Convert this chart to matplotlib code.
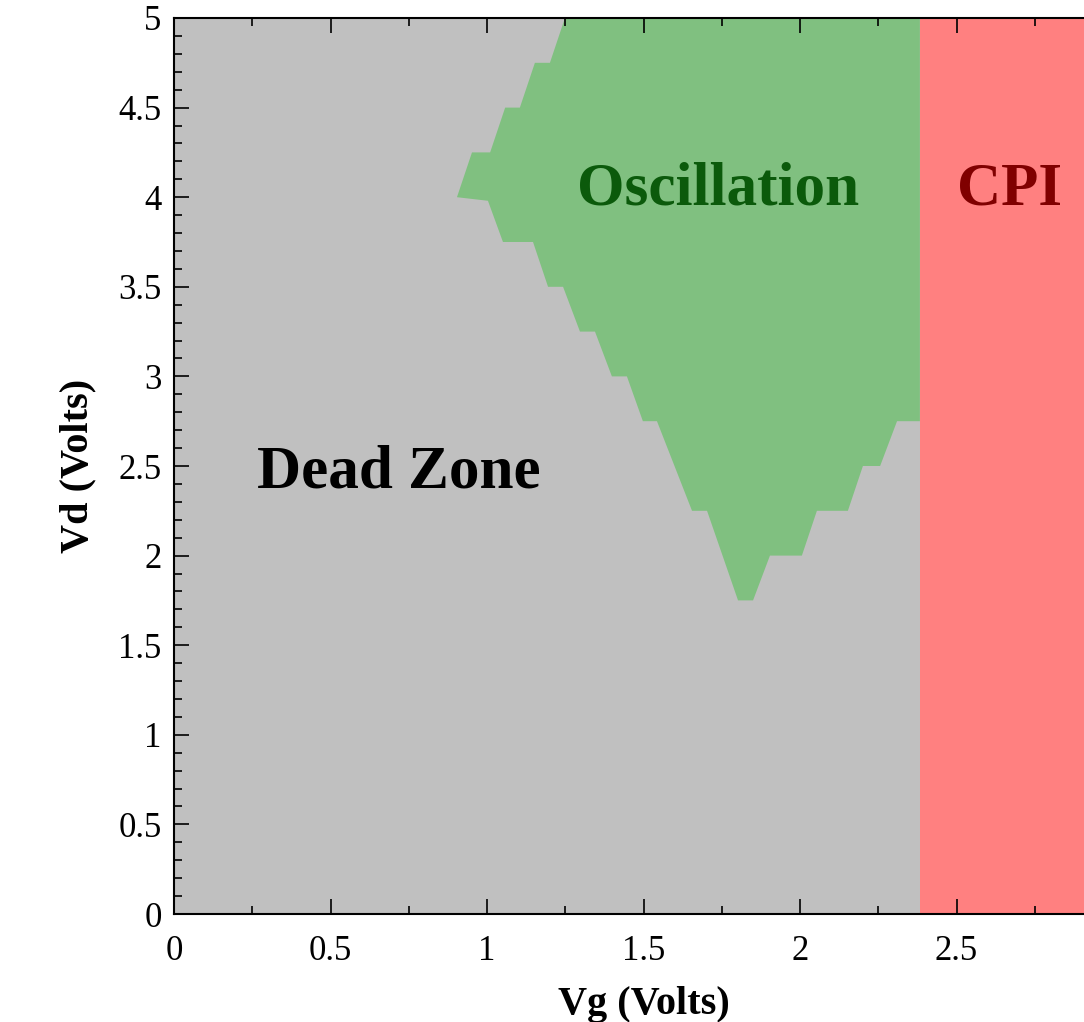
import numpy as np
import matplotlib
matplotlib.use('Agg')
import matplotlib.pyplot as plt
from matplotlib.ticker import MultipleLocator

plt.rcParams['font.family'] = ['Liberation Serif', 'DejaVu Serif']

# boundary of the oscillation region (Vg, Vd)
osc_vg = [1.249, 1.201, 1.153, 1.105, 1.058, 1.010, 0.952, 0.904, 1.003,
          1.051, 1.147, 1.195, 1.243, 1.297, 1.345, 1.399, 1.447, 1.498,
          1.543, 1.655, 1.703, 1.802, 1.850, 1.904, 2.006, 2.054, 2.153,
          2.201, 2.256, 2.310, 2.383, 2.383]
osc_vd = [5.0, 4.75, 4.75, 4.5, 4.5, 4.25, 4.25, 4.0, 3.98,
          3.75, 3.75, 3.5, 3.5, 3.25, 3.25, 3.0, 3.0, 2.75,
          2.75, 2.25, 2.25, 1.75, 1.75, 2.0, 2.0, 2.25, 2.25,
          2.5, 2.5, 2.75, 2.75, 5.0]

cpi_start = 2.383
vg_max = 3.0
vd_max = 5.0

x_ticks = [0, 0.5, 1, 1.5, 2, 2.5]
x_labels = ['0', '0.5', '1', '1.5', '2', '2.5']
y_ticks = [0, 0.5, 1, 1.5, 2, 2.5, 3, 3.5, 4, 4.5, 5]
y_labels = ['0', '0.5', '1', '1.5', '2', '2.5', '3', '3.5', '4', '4.5', '5']

fig = plt.figure(figsize=(10.84, 10.22), dpi=100)
# axes runs past the right edge of the picture, like the cropped original
ax = fig.add_axes([174 / 1084, 108 / 1022, 939 / 1084, 896 / 1022])

ax.set_facecolor('#c0c0c0')
ax.fill(osc_vg, osc_vd, color='#80c080', lw=0)
ax.axvspan(cpi_start, vg_max, color='#ff8080', lw=0)

ax.text(0.719, 2.465, 'Dead Zone', fontsize=44, fontweight='bold',
        color='black', ha='center', va='center')
ax.text(1.738, 4.045, 'Oscillation', fontsize=44, fontweight='bold',
        color='#0b5a0b', ha='center', va='center')
ax.text(2.668, 4.045, 'CPI', fontsize=44, fontweight='bold',
        color='#800000', ha='center', va='center')

ax.set_xlim(0, vg_max)
ax.set_ylim(0, vd_max)
ax.set_xticks(x_ticks)
ax.set_xticklabels(x_labels)
ax.set_yticks(y_ticks)
ax.set_yticklabels(y_labels)
ax.xaxis.set_minor_locator(MultipleLocator(0.25))
ax.yaxis.set_minor_locator(MultipleLocator(0.1))

ax.tick_params(which='both', direction='in', top=True, right=True,
               labelsize=25, width=1.2, colors='black')
ax.tick_params(which='major', length=11)
ax.tick_params(which='minor', length=5.5)
ax.tick_params(axis='x', pad=15)
ax.tick_params(axis='y', pad=9)
for s in ax.spines.values():
    s.set_linewidth(1.5)

ax.set_xlabel('Vg (Volts)', fontsize=29, fontweight='bold', labelpad=13)
ax.set_ylabel('Vd (Volts)', fontsize=29, fontweight='bold', labelpad=16)

fig.savefig('out.png', dpi=100)
